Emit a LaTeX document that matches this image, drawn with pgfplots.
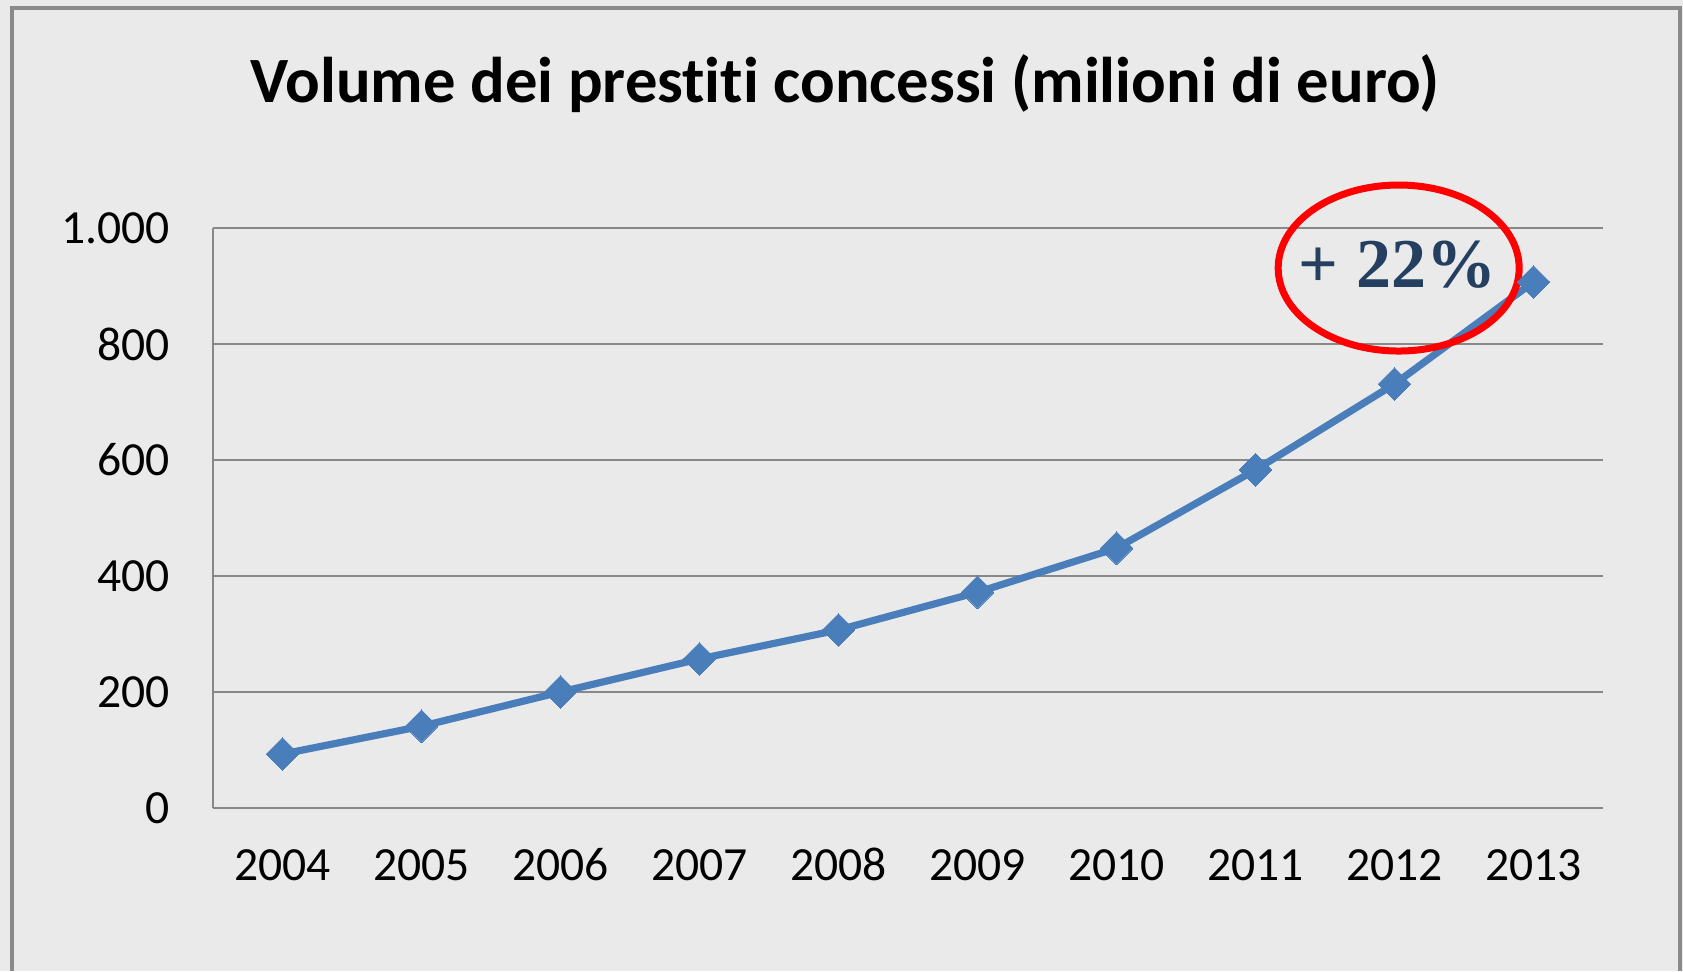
\documentclass[border=0pt]{standalone}
\usepackage{fontspec}
\setmainfont[Ligatures=NoCommon]{Carlito}
\newfontfamily\annfont{Liberation Serif}
\usepackage{pgfplots}
\pgfplotsset{compat=1.18}
\definecolor{bgc}{HTML}{EAEAEA}
\definecolor{framec}{HTML}{8A8A8A}
\definecolor{gridc}{HTML}{888888}
\definecolor{linec}{HTML}{4A7EBB}
\definecolor{annc}{HTML}{243F60}
\begin{document}
\begin{tikzpicture}
\fill[bgc] (-106.5pt,-81.5pt) rectangle (735pt,404pt);
\draw[framec, line width=1.7pt] (-100.5pt,-81.5pt) -- (-100.5pt,400pt) -- (733.5pt,400pt) -- (733.5pt,-81.5pt);
\begin{axis}[
  scale only axis, width=695pt, height=290pt,
  at={(0,0)}, anchor=south west,
  xmin=-0.5, xmax=9.5, ymin=0, ymax=1000,
  xtick={0,...,9}, xticklabels={2004,2005,2006,2007,2008,2009,2010,2011,2012,2013},
  ytick={0,200,...,1000},
  ymajorgrids, grid style={draw=gridc, line width=0.8pt},
  axis x line*=bottom, axis y line*=left,
  axis line style={draw=gridc, line width=0.8pt},
  major tick length=0pt,
  tick label style={font=\fontsize{23.8}{28}\selectfont, text=black},
  /pgf/number format/assume math mode=true,
  /pgf/number format/1000 sep={.},
  yticklabel style={anchor=east, inner sep=0pt, xshift=-21.5pt},
  xticklabel style={anchor=base, inner sep=0pt, yshift=-36pt},
  every axis title shift=0pt,
  title={Volume dei prestiti concessi (milioni di euro)},
  title style={at={(axis description cs:0.4547,1.217)}, anchor=base, inner sep=0pt, font=\bfseries\fontsize{32.3}{38}\selectfont},
  clip=false,
]
\addplot[color=linec, line width=3.6pt, mark=square*, mark size=5.8pt, mark options={rotate=45, fill=linec, draw=linec, line width=0pt}]
  coordinates {(0,93) (1,141) (2,200) (3,257) (4,307) (5,372) (6,448) (7,583) (8,731) (9,907)};
\draw[red, line width=3.5pt] (axis cs:8.03,931) ellipse [x radius=60.25pt, y radius=41.5pt];
\node[anchor=base, inner sep=0pt, text=annc, font=\annfont\bfseries\fontsize{35}{40}\selectfont] at (axis cs:8.02,898) {+ 22\%};
\end{axis}
\pgfresetboundingbox
\useasboundingbox (-106.5pt,-81.5pt) rectangle (735pt,404pt);
\end{tikzpicture}
\end{document}
